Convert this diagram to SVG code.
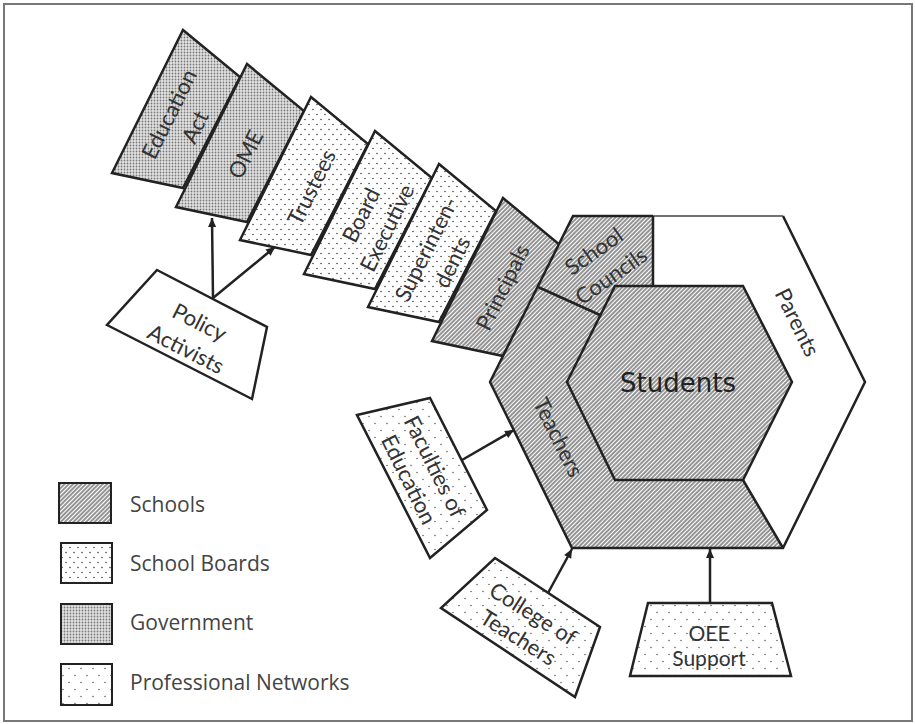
<svg xmlns="http://www.w3.org/2000/svg" width="915" height="724" viewBox="0 0 915 724">
<defs>
<style>
.o{stroke:#222;stroke-width:2.5;stroke-linejoin:miter}
.nf{fill:none}
.sch{fill:url(#hatch)}
.brd{fill:url(#dotsB)}
.gov{fill:url(#dotsG)}
.pro{fill:url(#dotsP)}
.wh{fill:#fff}
.lbl{font-family:Lato,"Open Sans",sans-serif;font-size:22px;fill:#333;text-anchor:middle;dominant-baseline:central}
.leg{font-family:"Open Sans","Noto Sans",sans-serif;font-size:21px;fill:#444}
.con{stroke:#222;stroke-width:2.5;fill:none;marker-end:url(#arr)}
</style>
<pattern id="hatch" width="3" height="3" patternUnits="userSpaceOnUse" patternTransform="rotate(45)">
<rect width="3" height="3" fill="#fff"/>
<line x1="1" y1="-1" x2="1" y2="4" stroke="#555" stroke-width="1.25"/>
</pattern>
<pattern id="dotsG" width="3" height="3" patternUnits="userSpaceOnUse">
<rect width="3" height="3" fill="#e2e2e2"/>
<circle cx="1.5" cy="1.5" r="0.9" fill="#777"/>
</pattern>
<pattern id="dotsB" width="8" height="10" patternUnits="userSpaceOnUse">
<rect width="8" height="10" fill="#fff"/>
<circle cx="2" cy="2.5" r="0.8" fill="#444"/>
<circle cx="6" cy="7.5" r="0.8" fill="#444"/>
</pattern>
<pattern id="dotsP" width="12" height="14" patternUnits="userSpaceOnUse">
<rect width="12" height="14" fill="#fff"/>
<circle cx="3" cy="3.5" r="0.8" fill="#666"/>
<circle cx="9" cy="10.5" r="0.8" fill="#666"/>
</pattern>
<marker id="arr" viewBox="0 0 10 10" refX="10" refY="5" markerWidth="4" markerHeight="3.6" orient="auto" markerUnits="strokeWidth">
<path d="M0,0.5 L10,5 L0,9.5 z" fill="#222"/>
</marker>
</defs>

<rect x="4" y="4" width="908" height="717" fill="#fff" stroke="#777" stroke-width="2"/>

<g id="education-act">
<polygon class="o gov" transform="translate(183,30)" points="0,0 57,47 0,158 -71,143"/>
<g transform="translate(181,120) rotate(-63.6)"><text class="lbl" x="0" y="-14">Education</text><text class="lbl" x="0" y="15">Act</text></g>
</g>
<g id="ome">
<polygon class="o gov" transform="translate(247,64)" points="0,0 57,47 0,158 -71,143"/>
<g transform="translate(245,154) rotate(-63.6)"><text class="lbl" x="0" y="0">OME</text></g>
</g>
<g id="trustees">
<polygon class="o brd" transform="translate(311,97)" points="0,0 57,47 0,158 -71,143"/>
<g transform="translate(311,187) rotate(-63.6)"><text class="lbl" x="0" y="0">Trustees</text></g>
</g>
<g id="board-executive">
<polygon class="o brd" transform="translate(375,131)" points="0,0 57,47 0,158 -71,143"/>
<g transform="translate(373,221) rotate(-63.6)"><text class="lbl" x="0" y="-14">Board</text><text class="lbl" x="0" y="15">Executive</text></g>
</g>
<g id="superintendents">
<polygon class="o brd" transform="translate(439,164)" points="0,0 57,47 0,158 -71,143"/>
<g transform="translate(438,255) rotate(-63.6)"><text class="lbl" x="0" y="-14">Superinten-</text><text class="lbl" x="0" y="15">dents</text></g>
</g>
<g id="principals">
<polygon class="o sch" transform="translate(503,198)" points="0,0 57,47 0,158 -71,143"/>
<g transform="translate(502,287) rotate(-63.6)"><text class="lbl" x="0" y="0">Principals</text></g>
</g>

<g id="policy-activists">
<polygon class="o wh" points="157,270 267,327 252,399 107,325"/>
<g transform="translate(193,335) rotate(27)"><text class="lbl" x="0" y="-15">Policy</text><text class="lbl" x="0" y="15">Activists</text></g>
</g>

<g id="teachers">
<polygon class="sch" points="538,287 490,382 572,548 783,548 743,480 615,480 567,382 600,315"/>
<g transform="translate(559,437) rotate(63.6)"><text class="lbl" x="0" y="0">Teachers</text></g>
</g>
<g id="school-councils">
<polygon class="sch" points="573,216 653,216 653,286 615,286 600,315 538,287"/>
<g transform="translate(602,263) rotate(-35)"><text class="lbl" x="0" y="-15">School</text><text class="lbl" x="0" y="15">Councils</text></g>
</g>
<g id="parents">
<polygon class="wh" points="653,216 783,216 865,382 783,548 743,480 792,382 743,286 653,286"/>
<g transform="translate(798,322) rotate(63.6)"><text class="lbl" x="0" y="0">Parents</text></g>
</g>
<g id="students">
<polygon class="o sch" points="615,286 743,286 792,382 743,480 615,480 567,382"/>
<text x="678" y="383" style="font-family:'DejaVu Sans',sans-serif;font-size:26px;fill:#222;text-anchor:middle;dominant-baseline:central">Students</text>
</g>
<g id="hexagon-outline">
<path class="o nf" d="M653,216 L573,216 L490,382 L572,548 L783,548 L865,382 L783,216"/>
<path d="M653,216 L783,216" stroke="#444" stroke-width="1.5" fill="none"/>
<path class="o nf" d="M538,287 L600,315 M653,216 L653,286 M743,480 L783,548"/>
</g>

<g id="faculties-of-education">
<polygon class="o pro" points="357,415 430,398 487,510 430,558"/>
<g transform="translate(422,473) rotate(63.6)"><text class="lbl" x="0" y="-15">Faculties of</text><text class="lbl" x="0" y="14">Education</text></g>
</g>
<g id="college-of-teachers">
<polygon class="o pro" points="495,558 600,627 575,697 441,608"/>
<g transform="translate(526,625) rotate(32)"><text class="lbl" x="0" y="-14">College of</text><text class="lbl" x="0" y="14">Teachers</text></g>
</g>
<g id="oee-support">
<polygon class="o pro" points="648,603 772,603 791,676 630,676"/>
<text class="lbl" x="709" y="632" style="font-size:21px">OEE</text>
<text class="lbl" x="709" y="657" style="font-size:21px">Support</text>
</g>

<g id="connectors">
<line class="con" x1="213" y1="298" x2="212" y2="218"/>
<line class="con" x1="213" y1="298" x2="275" y2="247"/>
<line class="con" x1="462" y1="460" x2="514" y2="430"/>
<line class="con" x1="548" y1="593" x2="572" y2="549"/>
<line class="con" x1="710" y1="603" x2="710" y2="549"/>
</g>

<g id="legend">
<rect class="o sch" x="59" y="483" width="52" height="40" style="stroke-width:2"/>
<text class="leg" x="130" y="512">Schools</text>
<rect class="o brd" x="61" y="543" width="51" height="40" style="stroke-width:2"/>
<text class="leg" x="130" y="571">School Boards</text>
<rect class="o gov" x="61" y="604" width="51" height="40" style="stroke-width:2"/>
<text class="leg" x="130" y="630">Government</text>
<rect class="o pro" x="61" y="664" width="51" height="41" style="stroke-width:2"/>
<text class="leg" x="130" y="690">Professional Networks</text>
</g>
</svg>
